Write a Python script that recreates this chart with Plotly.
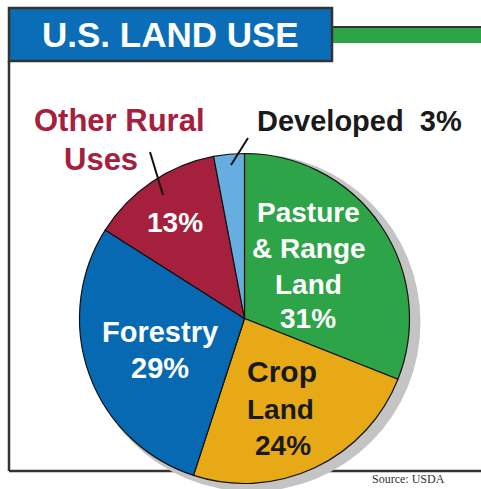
import plotly.graph_objects as go

W, H = 481, 489

categories = ["Pasture & Range Land", "Crop Land", "Forestry", "Other Rural Uses", "Developed"]
values = [31, 24, 29, 13, 3]
colors = ["#2ea448", "#e8a917", "#0669b2", "#a5203d", "#66aee0"]

title_text = "U.S. LAND USE"
source_text = "Source: USDA"

def px(x):
    return x / W

def py(y):
    return 1 - y / H

FONT = "Liberation Sans, Arial, sans-serif"

# pie geometry in pixels
cx, cy, r = 244.5, 318.5, 165

fig = go.Figure()
fig.add_trace(go.Pie(
    labels=categories, values=values, sort=False, direction="clockwise", rotation=0,
    marker=dict(colors=colors, line=dict(color="#111111", width=1.2)),
    textinfo="none", hoverinfo="label+percent", showlegend=False,
    domain=dict(x=[px(cx - r), px(cx + r)], y=[py(cy + r), py(cy - r)]),
))

shapes = []
frame = "#333333"
# frame lines
shapes.append(dict(type="line", xref="paper", yref="paper", x0=px(9), x1=px(9), y0=py(61), y1=py(471),
                   line=dict(color=frame, width=2.5), layer="below"))
shapes.append(dict(type="line", xref="paper", yref="paper", x0=px(9), x1=px(490), y0=py(471), y1=py(471),
                   line=dict(color=frame, width=2.5), layer="below"))
# shadow
sx, sy, sr = cx + 7, cy + 4, r + 4
shapes.append(dict(type="circle", xref="paper", yref="paper", x0=px(sx - sr), x1=px(sx + sr),
                   y0=py(sy + sr), y1=py(sy - sr), fillcolor="#c4c4c4", line=dict(width=0), layer="below"))
# green bar
shapes.append(dict(type="rect", xref="paper", yref="paper", x0=px(332), x1=px(490), y0=py(43), y1=py(27),
                   fillcolor="#2ea448", line=dict(width=0), layer="above"))
shapes.append(dict(type="line", xref="paper", yref="paper", x0=px(332), x1=px(490), y0=py(27), y1=py(27),
                   line=dict(color=frame, width=2), layer="above"))
# title box
shapes.append(dict(type="rect", xref="paper", yref="paper", x0=px(9), x1=px(332), y0=py(61), y1=py(8),
                   fillcolor="#0b6db7", line=dict(color=frame, width=2.5), layer="above"))
# leader lines
shapes.append(dict(type="line", xref="paper", yref="paper", x0=px(150), x1=px(163), y0=py(152), y1=py(195),
                   line=dict(color="#111111", width=2), layer="above"))
shapes.append(dict(type="line", xref="paper", yref="paper", x0=px(248), x1=px(231), y0=py(138), y1=py(165),
                   line=dict(color="#111111", width=2), layer="above"))

annotations = []

def label(text, x, y, size, color, anchor="center", family=FONT, yanchor="middle"):
    annotations.append(dict(text=text, x=px(x), y=py(y), xref="paper", yref="paper", showarrow=False,
                            xanchor=anchor, yanchor=yanchor,
                            font=dict(family=family, size=size, color=color)))

label("<b>" + title_text + "</b>", 170, 34, 35, "white")
label("<b>Other Rural</b>", 119, 121, 31, "#a5203d")
label("<b>Uses</b>", 101, 160, 31, "#a5203d")
label("<b>Developed  3%</b>", 359, 121, 29, "#1a1a1a")
label("<b>Pasture</b>", 308, 212, 28, "white")
label("<b>&amp; Range</b>", 309, 248, 28, "white")
label("<b>Land</b>", 308, 284, 28, "white")
label("<b>31%</b>", 308, 318, 28, "white")
label("<b>Forestry</b>", 160, 332, 29, "white")
label("<b>29%</b>", 160, 368, 29, "white")
label("<b>Crop</b>", 282, 371, 30, "#1a1a1a")
label("<b>Land</b>", 280, 409, 28, "#1a1a1a")
label("<b>24%</b>", 283, 445, 28, "#1a1a1a")
label("<b>13%</b>", 175, 222, 28, "white")
label(source_text, 370, 488, 12, "#333333", anchor="left", family="Liberation Serif, serif", yanchor="bottom")

fig.update_layout(width=W, height=H, margin=dict(l=0, r=0, t=0, b=0),
                  paper_bgcolor="white", plot_bgcolor="white",
                  shapes=shapes, annotations=annotations)

fig.write_html("out.html", config={"displayModeBar": False},
               post_script="document.body.style.margin='0';document.body.style.overflow='hidden';")
